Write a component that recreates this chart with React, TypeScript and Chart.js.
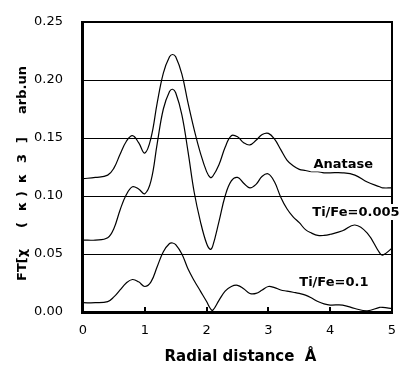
import React, { useEffect, useRef } from "react";
import { Chart, registerables } from "chart.js";

Chart.register(...registerables);

const xs = [0, 0.2, 0.4, 0.5, 0.6, 0.7, 0.8, 0.9, 1.0, 1.1, 1.2, 1.3, 1.4, 1.45, 1.5, 1.6, 1.7, 1.8, 1.9, 2.0, 2.06, 2.1, 2.2, 2.3, 2.4, 2.5, 2.6, 2.7, 2.8, 2.9, 3.0, 3.1, 3.2, 3.3, 3.4, 3.5, 3.6, 3.7, 3.8, 3.9, 4.0, 4.2, 4.4, 4.6, 4.8, 4.85, 5.0];

const anatase = [0.115, 0.116, 0.118, 0.124, 0.136, 0.147, 0.152, 0.146, 0.137, 0.150, 0.180, 0.206, 0.220, 0.222, 0.220, 0.205, 0.180, 0.157, 0.137, 0.121, 0.116, 0.117, 0.127, 0.142, 0.152, 0.151, 0.146, 0.144, 0.148, 0.153, 0.154, 0.149, 0.140, 0.131, 0.126, 0.123, 0.122, 0.121, 0.121, 0.120, 0.120, 0.120, 0.118, 0.112, 0.108, 0.107, 0.107];

const tiFe0005 = [0.062, 0.062, 0.064, 0.072, 0.088, 0.101, 0.108, 0.106, 0.102, 0.113, 0.145, 0.175, 0.190, 0.192, 0.189, 0.170, 0.138, 0.103, 0.078, 0.059, 0.054, 0.057, 0.078, 0.100, 0.113, 0.116, 0.111, 0.107, 0.110, 0.117, 0.119, 0.112, 0.099, 0.089, 0.082, 0.077, 0.071, 0.068, 0.066, 0.066, 0.067, 0.070, 0.075, 0.068, 0.051, 0.049, 0.055];

const tiFe01 = [0.008, 0.008, 0.009, 0.013, 0.019, 0.025, 0.028, 0.026, 0.022, 0.026, 0.039, 0.052, 0.059, 0.0595, 0.058, 0.050, 0.037, 0.027, 0.018, 0.009, 0.003, 0.0015, 0.010, 0.018, 0.022, 0.023, 0.020, 0.016, 0.016, 0.019, 0.022, 0.021, 0.019, 0.018, 0.017, 0.016, 0.0145, 0.012, 0.009, 0.007, 0.006, 0.006, 0.003, 0.001, 0.004, 0.004, 0.003];

const yTicks = [0, 0.05, 0.1, 0.15, 0.2, 0.25];
const xTicks = [0, 1, 2, 3, 4, 5];

const seriesLabels = ["Anatase", "Ti/Fe=0.005", "Ti/Fe=0.1"];
const labelAt: [number, number][] = [
  [3.73, 0.128],
  [3.71, 0.0862],
  [3.5, 0.0258],
];

const xTitle = "Radial distance  Å";
// y title pieces: [text, position along the axis in px from the top]
const yTitleParts: [string, number][] = [
  ["FT[χ", 281],
  ["(", 228],
  ["κ", 211],
  [")", 197],
  ["κ", 183],
  ["3", 163],
  ["]", 143],
  ["arb.un", 114],
];

function toPts(ys: number[]) {
  return xs.map((x, i) => ({ x, y: ys[i] }));
}

export default function App() {
  const ref = useRef<HTMLCanvasElement>(null);
  useEffect(() => {
    const canvas = ref.current!;
    const decor = {
      id: "decor",
      beforeDatasetsDraw(chart: any) {
        const { ctx, chartArea: a, scales } = chart;
        ctx.save();
        ctx.fillStyle = "#000";
        for (const v of yTicks) {
          if (v === 0 || v === 0.25) continue;
          const y = Math.round(scales.y.getPixelForValue(v));
          ctx.fillRect(a.left, y, a.right - a.left, 1);
        }
        ctx.restore();
      },
      afterDraw(chart: any) {
        const { ctx, chartArea: a, scales } = chart;
        ctx.save();
        const L = Math.round(a.left), R = Math.round(a.right);
        const T = Math.round(a.top), B = Math.round(a.bottom);
        ctx.fillStyle = "#000";
        // frame
        ctx.fillRect(L - 1, T - 1, R - L + 2, 2); // top
        ctx.fillRect(R - 1, T - 1, 2, B - T + 2); // right
        ctx.fillRect(L - 2, T - 1, 3, B - T + 3); // left
        ctx.fillRect(L - 2, B - 1, R - L + 3, 3); // bottom
        // x tick marks
        for (const v of xTicks) {
          if (v === 0 || v === 5) continue;
          const x = Math.round(scales.x.getPixelForValue(v));
          ctx.fillRect(x - 1, B - 5, 2, 5);
        }
        // series labels
        ctx.font = "bold 13px 'DejaVu Sans'";
        ctx.textBaseline = "middle";
        ctx.textAlign = "left";
        seriesLabels.forEach((t, i) => {
          const px = scales.x.getPixelForValue(labelAt[i][0]);
          const py = scales.y.getPixelForValue(labelAt[i][1]);
          const w = ctx.measureText(t).width;
          ctx.fillStyle = "#fff";
          ctx.fillRect(px - 3, py - 8, w + 6, 16);
          ctx.fillStyle = "#000";
          ctx.fillText(t, px, py + 1);
        });
        // axis titles
        ctx.font = "bold 15px 'DejaVu Sans'";
        ctx.textAlign = "center";
        ctx.fillText(xTitle, (a.left + a.right) / 2 + 3, 357);
        ctx.save();
        ctx.translate(23, 0);
        ctx.rotate(-Math.PI / 2);
        ctx.font = "bold 13px 'DejaVu Sans'";
        ctx.textAlign = "left";
        for (const [t, p] of yTitleParts) {
          ctx.fillText(t, -p, 0);
        }
        ctx.restore();
        ctx.restore();
      },
    };
    const mk = (data: number[]) => ({
      data: toPts(data),
      borderColor: "#000",
      borderWidth: 1.2,
      pointRadius: 0,
      tension: 0.4,
      fill: false,
    });
    const chart = new Chart(canvas, {
      type: "line",
      data: {
        datasets: [mk(anatase), mk(tiFe0005), mk(tiFe01)],
      },
      options: {
        animation: false,
        responsive: false,
        layout: { padding: { top: 22, right: 8, left: 0, bottom: 0 } },
        plugins: { legend: { display: false }, tooltip: { enabled: false } },
        scales: {
          x: {
            type: "linear",
            min: 0,
            max: 5,
            afterFit: (s: any) => { s.height = 53; s.paddingLeft = 0; s.paddingRight = 0; },
            afterBuildTicks: (s: any) => { s.ticks = xTicks.map((v) => ({ value: v })); },
            grid: { display: false, drawTicks: false },
            border: { display: false },
            ticks: {
              padding: 11,
              color: "#000",
              font: { family: "'DejaVu Sans'", size: 13 },
              callback: (v: any) => String(v),
            },
          },
          y: {
            min: 0,
            max: 0.25,
            afterFit: (s: any) => { s.width = 83; s.paddingTop = 0; s.paddingBottom = 0; },
            afterBuildTicks: (s: any) => { s.ticks = yTicks.map((v) => ({ value: v })); },
            grid: { display: false, drawTicks: false },
            border: { display: false },
            ticks: {
              padding: 20,
              color: "#000",
              font: { family: "'DejaVu Sans'", size: 13 },
              callback: (v: any) => Number(v).toFixed(2),
            },
          },
        },
      },
      plugins: [decor],
    });
    return () => chart.destroy();
  }, []);
  return (
    <div style={{ position: "absolute", left: 0, top: 0, width: 400, height: 365, background: "#fff" }}>
      <canvas ref={ref} width={400} height={365} style={{ width: 400, height: 365 }} />
    </div>
  );
}
